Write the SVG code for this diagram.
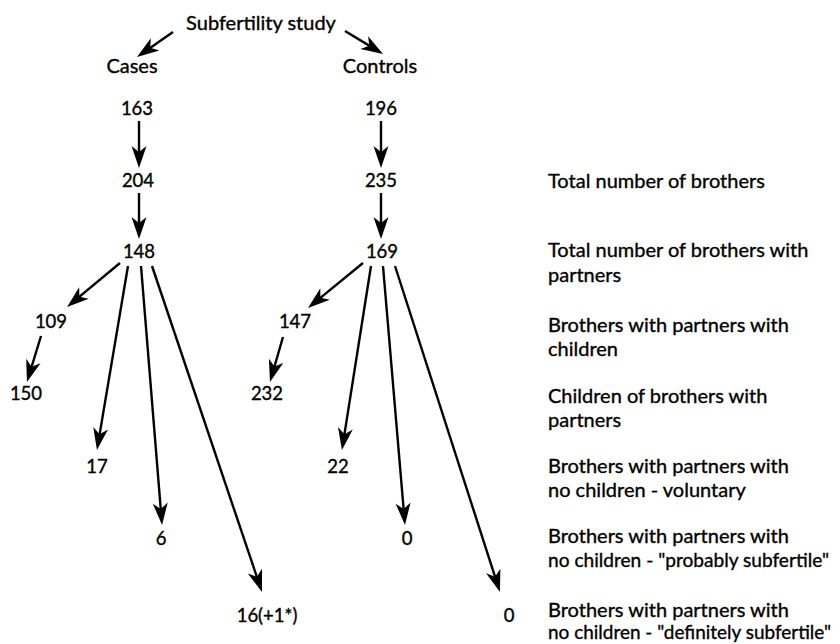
<svg xmlns="http://www.w3.org/2000/svg" width="840" height="644" viewBox="0 0 840 644">
<style>
text{font-family:Lato,"Open Sans","Liberation Sans",sans-serif;font-size:20px;fill:#000;stroke:#000;stroke-width:0.35}
.n{text-anchor:middle;font-size:18.5px}
.w{text-anchor:middle}
.s{font-size:19px}
.c line{stroke:#000;stroke-width:2.4;marker-end:url(#ah)}
</style>
<defs>
<marker id="ah" markerUnits="userSpaceOnUse" orient="auto" overflow="visible" markerWidth="1" markerHeight="1" refX="0" refY="0">
<path d="M8,0 L-14,-7.5 L-8,0 L-14,7.5 Z" fill="#000"/>
</marker>
</defs>
<rect width="840" height="644" fill="#fff"/>
<g class="c" id="connectors">
<line x1="173" y1="32" x2="143.6" y2="52.4"/>
<line x1="345" y1="31" x2="376.2" y2="49.9"/>
<line x1="139" y1="121" x2="139" y2="160"/>
<line x1="139" y1="193" x2="139" y2="231"/>
<line x1="381" y1="121" x2="381" y2="160"/>
<line x1="381" y1="193" x2="381" y2="231"/>
<line x1="120" y1="263" x2="73.2" y2="301.9"/>
<line x1="41" y1="336" x2="29.3" y2="374.4"/>
<line x1="128" y1="266" x2="98.3" y2="442.1"/>
<line x1="141" y1="266" x2="161.4" y2="517"/>
<line x1="152" y1="266" x2="259.4" y2="584.4"/>
<line x1="363" y1="263" x2="314.2" y2="302.9"/>
<line x1="283" y1="337" x2="272.2" y2="374.3"/>
<line x1="371" y1="266" x2="343.2" y2="442.1"/>
<line x1="383" y1="266" x2="404.3" y2="517"/>
<line x1="395" y1="266" x2="497.5" y2="584.4"/>
</g>
<g id="title"><text class="w" x="261" y="30">Subfertility study</text></g>
<g id="cases"><text class="w" x="132" y="73">Cases</text></g>
<g id="controls"><text class="w" x="380" y="73">Controls</text></g>
<g id="n163"><text class="n" x="137" y="115">163</text></g>
<g id="n196"><text class="n" x="381" y="115">196</text></g>
<g id="n204"><text class="n" x="138" y="187">204</text></g>
<g id="n235"><text class="n" x="381" y="187">235</text></g>
<g id="n148"><text class="n" x="139" y="258">148</text></g>
<g id="n169"><text class="n" x="382" y="258">169</text></g>
<g id="n109"><text class="n" x="51" y="328">109</text></g>
<g id="n147"><text class="n" x="295" y="328">147</text></g>
<g id="n150"><text class="n" x="26" y="400">150</text></g>
<g id="n232"><text class="n" x="267" y="400">232</text></g>
<g id="n17"><text class="n" x="97" y="473">17</text></g>
<g id="n22"><text class="n" x="338" y="473">22</text></g>
<g id="n6"><text class="n" x="161" y="545">6</text></g>
<g id="n0a"><text class="n" x="407" y="545">0</text></g>
<g id="n16"><text class="n" x="267" y="622">16(+1*)</text></g>
<g id="n0b"><text class="n" x="509" y="622">0</text></g>
<g id="labels">
<text x="548" y="188">Total number of brothers</text>
<text x="548" y="257">Total number of brothers with</text>
<text x="548" y="282">partners</text>
<text x="548" y="332">Brothers with partners with</text>
<text x="548" y="356">children</text>
<text x="548" y="403">Children of brothers with</text>
<text x="548" y="427">partners</text>
<text x="548" y="473">Brothers with partners with</text>
<text x="548" y="497">no children - voluntary</text>
<text x="548" y="543">Brothers with partners with</text>
<text class="s" x="548" y="567" textLength="281" lengthAdjust="spacingAndGlyphs">no children - "probably subfertile"</text>
<text x="548" y="617">Brothers with partners with</text>
<text class="s" x="548" y="639" textLength="283" lengthAdjust="spacingAndGlyphs">no children - "definitely subfertile"</text>
</g>
</svg>
